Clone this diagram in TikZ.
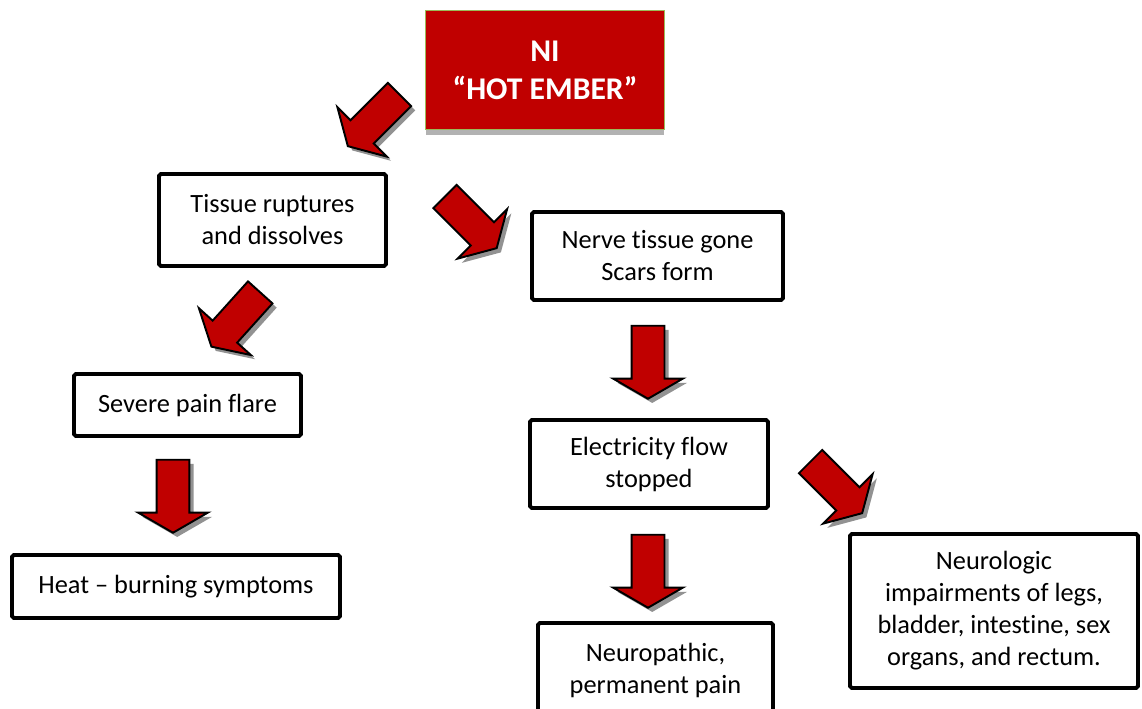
\documentclass[tikz,border=0pt]{standalone}
\usepackage{fontspec}
\setmainfont{Carlito}[Ligatures=NoCommon]
\usetikzlibrary{positioning,shapes.arrows,shadows}
\definecolor{emberred}{HTML}{C00000}
\definecolor{embergreen}{HTML}{9BBB59}
\tikzset{>=latex}
\tikzset{
  stepbox/.style={draw, line width=2.2pt, fill=white, rounded corners=1pt, align=center, inner sep=0pt, font=\fontsize{15}{18.2}\selectfont},
  blockarrow/.style={single arrow, draw, line width=1.1pt, fill=emberred, minimum height=1.46cm, inner xsep=0pt, inner ysep=0.31cm, text height=0pt, text depth=0pt, single arrow head extend=0.37cm, single arrow tip angle=120, drop shadow={shadow xshift=2.4pt, shadow yshift=-2.4pt, fill=black!50, opacity=.85}}
}

\begin{document}
\begin{tikzpicture}[x=0.02cm, y=-0.02cm]
      \useasboundingbox[fill=white] (0,0) rectangle (1142,709);
      % top box
      \node[draw=embergreen, line width=1pt, fill=emberred, minimum width=4.78cm, minimum height=2.38cm, text=white, align=center, font=\fontsize{18}{21.5}\selectfont\bfseries, drop shadow={shadow xshift=0pt, shadow yshift=-3pt, fill=black!60, opacity=.5}] (ni) at (545,70) {NI\\“HOT EMBER”};
      % left branch
      \node[stepbox, minimum width=4.54cm, minimum height=1.84cm] (tissue) at (272.5,220) {Tissue ruptures\\and dissolves};
      \node[stepbox, minimum width=4.54cm, minimum height=1.24cm] (severe) at (187.5,405) {Severe pain flare};
      \node[stepbox, minimum width=6.56cm, minimum height=1.26cm] (heat) at (176,586.5) {Heat – burning symptoms};
      % right branch
      \node[stepbox, minimum width=5.02cm, minimum height=1.76cm] (nerve) at (657.5,256) {Nerve tissue gone\\Scars form};
      \node[stepbox, minimum width=4.76cm, minimum height=1.76cm] (elec) at (649,464) {Electricity flow\\stopped};
      \node[stepbox, minimum width=4.70cm, minimum height=1.88cm] (neuro) at (655.5,670) {Neuropathic,\\permanent pain};
      \node[stepbox, minimum width=5.76cm, minimum height=3.08cm] (impair) at (994,611) {Neurologic\\impairments of legs,\\bladder, intestine, sex\\organs, and rectum.};
      % block arrows
      \node[blockarrow, rotate=225] (a1) at (377,117) {};
      \node[blockarrow, rotate=-45] (a2) at (467.5,219) {};
      \node[blockarrow, rotate=228] (a3) at (239,316) {};
      \node[blockarrow, rotate=-90] (a4) at (173,491.5) {};
      \node[blockarrow, rotate=-90] (a5) at (648,357.5) {};
      \node[blockarrow, rotate=-90] (a6) at (648,566.5) {};
      \node[blockarrow, rotate=-45] (a7) at (833,484) {};
\end{tikzpicture}
\end{document}
